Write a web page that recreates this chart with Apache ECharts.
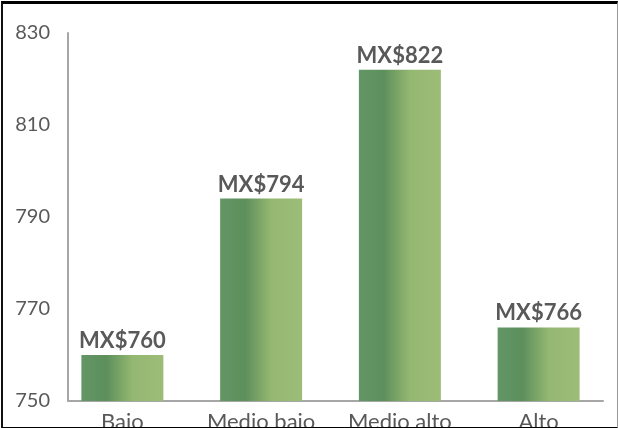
<!DOCTYPE html>
<html>
<head>
<meta charset="utf-8">
<script src="https://cdn.jsdelivr.net/npm/echarts@6/dist/echarts.min.js"></script>
<style>
  html, body { margin: 0; padding: 0; background: #fff; }
  #wrap { position: relative; width: 618px; height: 428px; overflow: hidden; }
  #chart { position: absolute; left: 0; top: 0; width: 618px; height: 428px; }
  #frame { position: absolute; left: 1px; top: 1px; width: 614px; height: 423px;
           border-top: 3px solid #000; border-left: 2px solid #111;
           border-right: 1px solid #999; border-bottom: 2px solid #000;
           box-sizing: content-box; pointer-events: none; }
</style>
</head>
<body>
<div id="wrap">
  <div id="chart"></div>
  <div id="frame"></div>
</div>
<script>
const categories = ['Bajo', 'Medio bajo', 'Medio alto', 'Alto'];
const values = [760, 794, 822, 766];
const yMin = 750, yMax = 830, yStep = 20;
const labelPrefix = 'MX$';

const textColor = '#595959';
const fontFamily = 'Lato, "Open Sans", sans-serif';

const chart = echarts.init(document.getElementById('chart'));
chart.setOption({
  animation: false,
  grid: [
    { left: 68, right: 15, top: 33, bottom: 27, containLabel: false, outerBoundsMode: 'none' },
    { left: 53, right: 10, top: 33, bottom: 27, containLabel: false, outerBoundsMode: 'none' }
  ],
  xAxis: [
    {
      gridIndex: 0, type: 'category', data: categories,
      axisLine: { show: true, lineStyle: { color: '#a6a6a6', width: 2 } },
      axisTick: { show: false }, axisLabel: { show: false }, splitLine: { show: false }
    },
    {
      gridIndex: 1, type: 'category', data: categories,
      axisLine: { show: false }, axisTick: { show: false }, splitLine: { show: false },
      axisLabel: { color: textColor, fontSize: 22, fontFamily: fontFamily, margin: 10,
                   interval: 0, hideOverlap: false }
    }
  ],
  yAxis: [
    {
      gridIndex: 0, type: 'value', min: yMin, max: yMax, interval: yStep,
      axisLine: { show: true, lineStyle: { color: '#a6a6a6', width: 2 } },
      axisTick: { show: false }, splitLine: { show: false },
      axisLabel: { color: textColor, fontSize: 20, fontFamily: fontFamily, margin: 18 }
    },
    {
      gridIndex: 1, type: 'value', min: yMin, max: yMax, interval: yStep,
      show: false, splitLine: { show: false }
    }
  ],
  series: [{
    type: 'bar',
    xAxisIndex: 1, yAxisIndex: 1,
    data: values,
    barWidth: 82,
    itemStyle: {
      color: new echarts.graphic.LinearGradient(0, 0, 1, 0, [
        { offset: 0, color: '#639665' },
        { offset: 0.3, color: '#5c8f5b' },
        { offset: 0.62, color: '#94b771' },
        { offset: 1, color: '#9cbd77' }
      ])
    },
    label: {
      show: true, position: 'top', distance: 3,
      color: textColor, fontSize: 22, fontWeight: 'bold', fontFamily: fontFamily,
      formatter: p => labelPrefix + p.value
    }
  }]
});
</script>
</body>
</html>
